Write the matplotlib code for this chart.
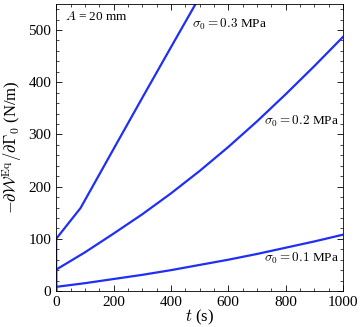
import matplotlib
matplotlib.use('Agg')
import matplotlib.pyplot as plt
from matplotlib.ticker import MultipleLocator

plt.rcParams['font.family'] = ['Liberation Serif', 'DejaVu Serif']
plt.rcParams['mathtext.fontset'] = 'cm'

# sigma_0 = 0.3 MPa (starts with a jump at t = 0)
t_03 = [0, 0, 85, 200, 300, 400, 486]
w_03 = [0, 100, 159, 272, 370, 467, 550]
# sigma_0 = 0.2 MPa
t_02 = [0, 0, 100, 200, 300, 400, 500, 600, 700, 800, 900, 1000]
w_02 = [0, 41, 74, 110, 147, 187, 230, 276, 325, 377, 431, 487]
# sigma_0 = 0.1 MPa
t_01 = [0, 0, 100, 200, 300, 400, 500, 600, 700, 800, 900, 1000]
w_01 = [0, 8, 15, 23, 31, 40, 50, 60, 71, 83, 95, 108]

color = '#1f2ff5'

fig = plt.figure(figsize=(3.6, 3.27), dpi=100)
ax = fig.add_axes([0.156, 0.110, 0.797, 0.878])

ax.plot(t_03, w_03, color=color, lw=1.6)
ax.plot(t_02, w_02, color=color, lw=1.6)
ax.plot(t_01, w_01, color=color, lw=1.6)

ax.set_xlim(0, 1000)
ax.set_ylim(0, 550)
ax.xaxis.set_major_locator(MultipleLocator(200))
ax.xaxis.set_minor_locator(MultipleLocator(50))
ax.yaxis.set_major_locator(MultipleLocator(100))
ax.yaxis.set_minor_locator(MultipleLocator(20))
ax.tick_params(which='both', direction='in', top=True, right=True, labelsize=11)
ax.tick_params(which='major', length=4, width=0.6)
ax.tick_params(which='minor', length=2, width=0.5)
for s in ax.spines.values():
    s.set_linewidth(0.6)

ax.set_xlabel(r'$t$ (s)', fontsize=12, labelpad=-1)
ax.set_ylabel(r'$-\partial\mathcal{W}^{\rm Eq}/\partial\Gamma_0$ (N/m)', fontsize=12, labelpad=3)

ax.text(32, 520, r'$A$ = 20 mm', fontsize=9.5)
ax.text(475, 505, r'$\sigma_0 = 0.3$ MPa', fontsize=9.5)
ax.text(725, 318, r'$\sigma_0 = 0.2$ MPa', fontsize=9.5)
ax.text(725, 56, r'$\sigma_0 = 0.1$ MPa', fontsize=9.5)

fig.savefig('out.png', dpi=100)
